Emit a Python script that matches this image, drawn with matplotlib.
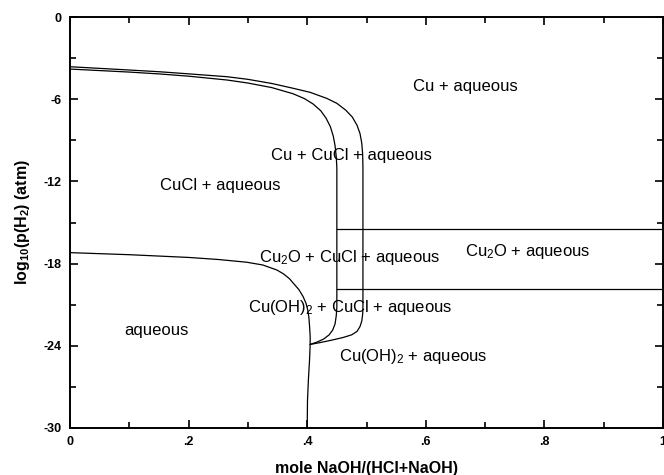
import matplotlib
matplotlib.use('Agg')
from matplotlib import pyplot as plt

plt.rcParams['font.family'] = ['Liberation Sans', 'DejaVu Sans']
plt.rcParams['mathtext.fontset'] = 'custom'
plt.rcParams['mathtext.rm'] = 'Liberation Sans'
plt.rcParams['mathtext.bf'] = 'Liberation Sans:bold'
plt.rcParams['mathtext.default'] = 'regular'

# upper boundaries (Cu / CuCl), outer and inner
outer_x = [0, 0.05, 0.1, 0.152, 0.2, 0.265, 0.3, 0.34, 0.376, 0.405, 0.433, 0.45, 0.465, 0.476,
           0.484, 0.489, 0.492, 0.4935, 0.494, 0.494, 0.4935, 0.492, 0.489, 0.484, 0.475, 0.46,
           0.44, 0.42, 0.405]
outer_y = [-3.63, -3.75, -3.87, -4.0, -4.15, -4.36, -4.55, -4.85, -5.2, -5.5, -5.94, -6.3, -6.8, -7.3,
           -7.9, -8.5, -9.2, -10.0, -11.0, -21.2, -21.7, -22.2, -22.6, -22.95, -23.2, -23.4,
           -23.6, -23.78, -23.9]
inner_x = [0, 0.05, 0.1, 0.152, 0.2, 0.265, 0.3, 0.34, 0.376, 0.395, 0.41, 0.423, 0.432, 0.439,
           0.444, 0.447, 0.449, 0.45, 0.45, 0.449, 0.447, 0.443, 0.437, 0.428, 0.417, 0.405]
inner_y = [-3.8, -3.91, -4.02, -4.16, -4.32, -4.6, -4.82, -5.15, -5.6, -5.95, -6.35, -6.85, -7.4, -8.0,
           -8.7, -9.4, -10.2, -11.0, -21.2, -21.8, -22.4, -22.85, -23.2, -23.5, -23.72, -23.9]

# aqueous boundary
aq_x = [0, 0.1, 0.2, 0.25, 0.298, 0.325, 0.349, 0.36, 0.37, 0.378, 0.386, 0.393, 0.398, 0.401,
        0.403, 0.404, 0.405, 0.405, 0.404, 0.402, 0.4005, 0.4]
aq_y = [-17.2, -17.35, -17.55, -17.7, -17.9, -18.1, -18.47, -18.75, -19.1, -19.5, -19.9, -20.4,
        -20.9, -21.4, -22.0, -22.6, -23.3, -23.9, -25.0, -26.5, -28.0, -30.0]

# Cu2O band
band_x = [0.45, 1.0]
band_top = -15.5
band_bottom = -19.85

labels = ['Cu + aqueous', 'Cu + CuCl + aqueous', 'CuCl + aqueous',
          'Cu$_2$O + CuCl + aqueous', 'Cu$_2$O + aqueous',
          'Cu(OH)$_2$ + CuCl + aqueous', 'aqueous', 'Cu(OH)$_2$ + aqueous']
label_x = [0.666, 0.475, 0.253, 0.472, 0.771, 0.472, 0.145, 0.579]
label_y = [-5.1, -10.1, -12.3, -17.55, -17.1, -21.2, -22.85, -24.8]

xticks = [0, 0.2, 0.4, 0.6, 0.8, 1.0]
xticklabels = ['0', '.2', '.4', '.6', '.8', '1']
yticks = [0, -6, -12, -18, -24, -30]
yticklabels = ['0', '-6', '-12', '-18', '-24', '-30']

fig = plt.figure(figsize=(6.64, 4.75), dpi=100)
ax = fig.add_axes([70/664, 47/475, 593/664, 411/475])

lw = 0.9
ax.plot(outer_x, outer_y, color='black', lw=lw)
ax.plot(inner_x, inner_y, color='black', lw=lw)
ax.plot(aq_x, aq_y, color='black', lw=lw)
ax.plot(band_x, [band_top, band_top], color='black', lw=lw)
ax.plot(band_x, [band_bottom, band_bottom], color='black', lw=lw)

for t, x, y in zip(labels, label_x, label_y):
    ax.text(x, y, t, ha='center', va='center', fontsize=12)

ax.set_xlim(0, 1)
ax.set_ylim(-30, 0)
ax.set_xticks(xticks)
ax.set_xticklabels(xticklabels)
ax.set_yticks(yticks)
ax.set_yticklabels(yticklabels)
ax.set_xticks([0.1, 0.3, 0.5, 0.7, 0.9], minor=True)
ax.set_yticks([-3, -9, -15, -21, -27], minor=True)
ax.tick_params(which='both', direction='in', top=True, right=True, width=1.2)
ax.tick_params(which='major', length=6, labelsize=9, pad=6)
ax.tick_params(which='minor', length=4)
for lab in ax.get_xticklabels() + ax.get_yticklabels():
    lab.set_fontweight('bold')
for s in ax.spines.values():
    s.set_linewidth(1.4)

ax.set_xlabel('mole NaOH/(HCl+NaOH)', fontsize=11.5, fontweight='bold', labelpad=9)
ax.set_ylabel(r'log$_{\mathbf{10}}$(p(H$_{\mathbf{2}}$) (atm)', fontsize=11.5, fontweight='bold', labelpad=8)

fig.savefig('out.png', dpi=100)
